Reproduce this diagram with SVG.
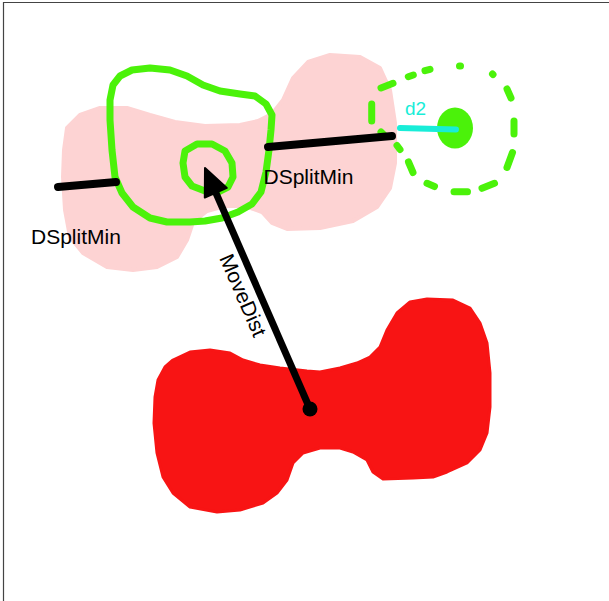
<svg xmlns="http://www.w3.org/2000/svg" width="609" height="601" viewBox="0 0 609 601">
<style>
.lbl{font-family:"Liberation Sans",Arial,sans-serif;font-size:21px;fill:#000}
.grn{fill:none;stroke:#4BF20A;stroke-width:7;stroke-linejoin:round;stroke-linecap:round}
.blk{stroke:#000;stroke-width:8;stroke-linecap:round}
</style>
<rect width="609" height="601" fill="#fff"/>
<path d="M3.5,601V2.5H609" fill="none" stroke="#444" stroke-width="1.2"/>
<g id="pink-region">
<polygon fill="#FDD3D3" stroke="#FDD3D3" stroke-width="4" stroke-linejoin="round" points="64,150 67,128 80,115 100,108 127,108 150,115 175,122 205,126 240,125 258,121 272,114 283,100 293,78 308,62 330,55 360,57 380,68 390,90 395,123 395,163 390,188 377,207 353,221 320,228 287,229 272,223 262,212 245,206 225,206 207,211 193,222 187,240 177,257 157,267 133,270 107,267 83,253 70,237 65,210 63,177"/>
</g>
<g id="red-region">
<polygon fill="#F81414" stroke="#F81414" stroke-width="3" stroke-linejoin="round" points="165,367 173,360 190,352 210,350 230,353 243,360 260,365 280,368 307,371 320,372 340,368 357,363 370,357 380,347 387,330 397,313 410,302 427,299 453,300 470,308 480,323 487,343 490,373 490,407 487,433 480,450 467,463 447,472 433,477 413,478 383,479 373,472 367,460 353,452 340,448 320,448 303,453 293,463 287,480 277,493 263,503 240,510 217,512 190,507 173,493 163,477 157,453 154,423 155,397 158,380"/>
</g>
<g id="green-contour">
<polygon class="grn" points="110,100 113,85 120,76 132,70 150,68 170,70 187,76 203,85 220,91 240,94 255,96 266,104 272,115 271,130 269,150 266,172 261,192 252,204 238,212 222,218 205,221 190,222 167,222 150,218 133,207 122,193 115,177 112,150 110,120"/>
</g>
<g id="green-ring">
<polygon class="grn" points="185,151 197,144 212,144 225,151 232,163 233,177 228,187 218,192 205,191 192,186 185,177 183,163"/>
</g>
<g id="green-dashed-ring" stroke="#4BF20A" stroke-width="7" stroke-linecap="round" fill="none">
<line x1="371.7" y1="104" x2="371.7" y2="121"/>
<line x1="381" y1="88" x2="393" y2="83.3"/>
<line x1="408.3" y1="76.7" x2="413.3" y2="75"/>
<line x1="425" y1="70.7" x2="430" y2="69.3"/>
<line x1="459.5" y1="66" x2="460.5" y2="66"/>
<line x1="492.5" y1="74" x2="493" y2="74.5"/>
<line x1="507" y1="89" x2="511" y2="98"/>
<line x1="514" y1="121" x2="514" y2="134"/>
<line x1="512.5" y1="152.5" x2="507" y2="167.5"/>
<line x1="494.5" y1="183.3" x2="482" y2="188.3"/>
<line x1="467.5" y1="191.7" x2="454" y2="191.7"/>
<line x1="434.5" y1="186.5" x2="427" y2="183.3"/>
<line x1="413" y1="172.5" x2="408.5" y2="162"/>
<line x1="400" y1="149.5" x2="397" y2="145.5"/>
<line x1="381" y1="132" x2="385" y2="136"/>
</g>
<g id="green-dot">
<ellipse cx="455" cy="128" rx="18" ry="20.5" fill="#4BF20A"/>
</g>
<g id="connectors">
<line class="blk" x1="58" y1="187" x2="116" y2="182"/>
<line class="blk" x1="268" y1="147" x2="392" y2="136"/>
<line x1="400" y1="128" x2="456" y2="129.5" stroke="#18EDD8" stroke-width="6" stroke-linecap="round"/>
<line x1="310" y1="409" x2="215.8" y2="192.7" stroke="#000" stroke-width="7"/>
<circle cx="310" cy="409" r="7.5" fill="#000"/>
<polygon points="205,168 226.8,187.9 204.8,197.5" fill="#000" stroke="#000" stroke-width="2" stroke-linejoin="round"/>
</g>
<g id="labels">
<text class="lbl" x="31" y="243.5">DSplitMin</text>
<text class="lbl" x="263.5" y="183.5">DSplitMin</text>
<text class="lbl" transform="translate(219,258) rotate(66.5)">MoveDist</text>
<text x="405" y="115" font-family="Liberation Sans, Arial, sans-serif" font-size="19" fill="#18EDD8">d2</text>
</g>
</svg>
